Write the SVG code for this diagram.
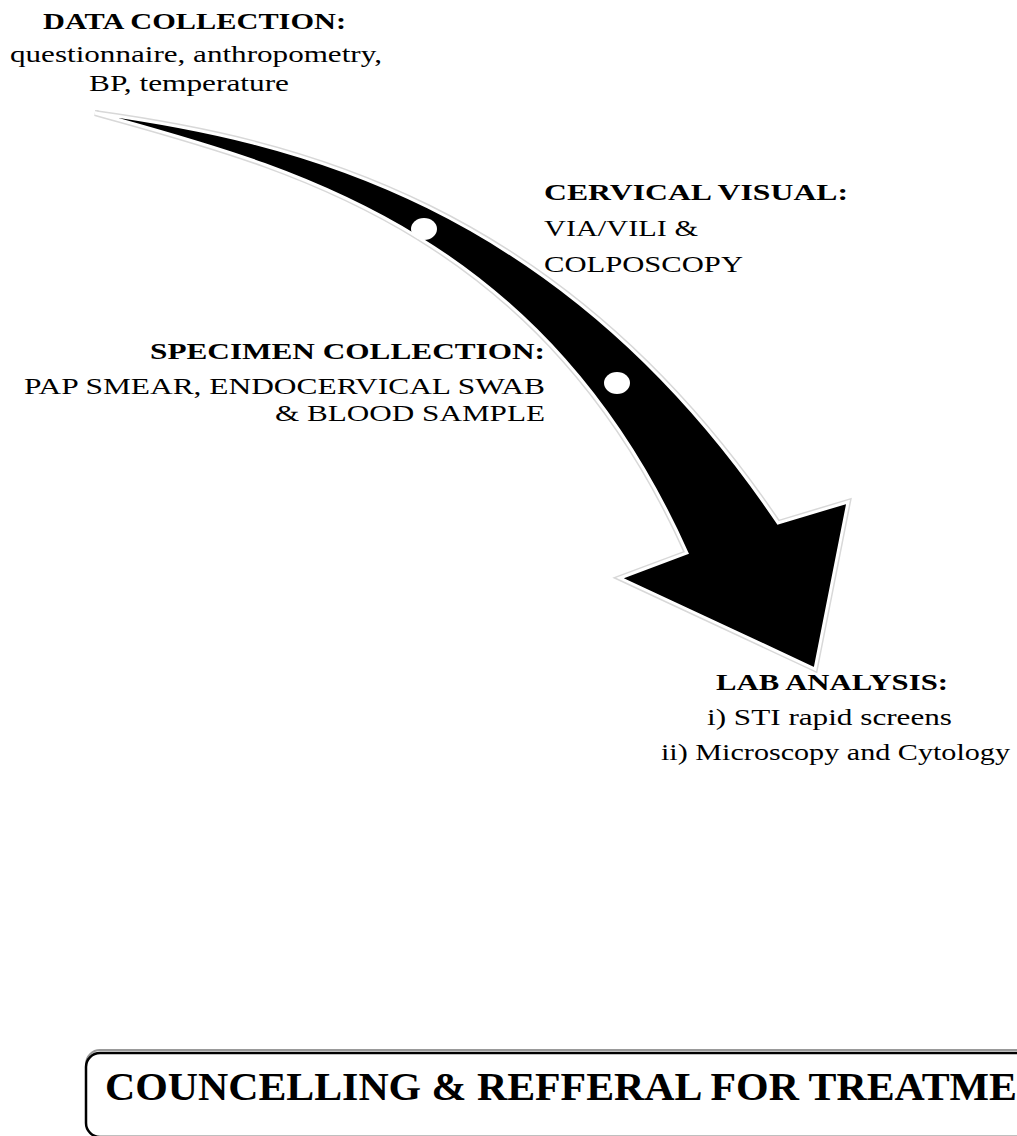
<svg xmlns="http://www.w3.org/2000/svg" width="1017" height="1136" viewBox="0 0 1017 1136">
<style>
text{font-family:"Liberation Serif","Times New Roman",serif;fill:#000;font-size:23px}
.b{font-weight:bold}
.big{font-weight:bold;font-size:39px}
</style>
<defs>
<path id="arrow" d="M95,113 C290,140 560,200 778,523 L848,502 L815,669 L620,578 L687,553 C540,225 280,165 95,113 Z"/>
</defs>
<rect width="1017" height="1136" fill="#fff"/>
<g id="data-collection">
<text class="b" x="43" y="29" textLength="303" lengthAdjust="spacingAndGlyphs">DATA COLLECTION:</text>
<text x="10" y="62" textLength="372" lengthAdjust="spacingAndGlyphs">questionnaire, anthropometry,</text>
<text x="89" y="91" textLength="200" lengthAdjust="spacingAndGlyphs">BP, temperature</text>
</g>
<g id="cervical-visual">
<text class="b" x="544" y="200" textLength="304" lengthAdjust="spacingAndGlyphs">CERVICAL VISUAL:</text>
<text x="544" y="236" textLength="154" lengthAdjust="spacingAndGlyphs">VIA/VILI &amp;</text>
<text x="544" y="272" textLength="199" lengthAdjust="spacingAndGlyphs">COLPOSCOPY</text>
</g>
<g id="specimen-collection">
<text class="b" x="150" y="359" textLength="395" lengthAdjust="spacingAndGlyphs">SPECIMEN COLLECTION:</text>
<text x="24" y="394" textLength="521" lengthAdjust="spacingAndGlyphs">PAP SMEAR, ENDOCERVICAL SWAB</text>
<text x="275" y="421" textLength="270" lengthAdjust="spacingAndGlyphs">&amp; BLOOD SAMPLE</text>
</g>
<g id="lab-analysis">
<text class="b" x="716" y="690" textLength="232" lengthAdjust="spacingAndGlyphs">LAB ANALYSIS:</text>
<text x="707" y="725" textLength="245" lengthAdjust="spacingAndGlyphs">i) STI rapid screens</text>
<text x="661" y="760" textLength="349" lengthAdjust="spacingAndGlyphs">ii) Microscopy and Cytology</text>
</g>
<g id="connectors">
<use href="#arrow" fill="none" stroke="#d8d8d8" stroke-width="6"/>
<use href="#arrow" fill="#000" stroke="#fff" stroke-width="3"/>
<ellipse cx="424" cy="229" rx="13" ry="11" fill="#fff"/>
<ellipse cx="617" cy="383" rx="13" ry="11" fill="#fff"/>
</g>
<g id="councelling">
<rect x="86" y="1050" width="1000" height="86" rx="14" fill="none" stroke="#999" stroke-width="2"/>
<rect x="86" y="1053" width="1000" height="84" rx="14" fill="#fff" stroke="#000" stroke-width="2.5"/>
<text class="big" x="105" y="1100" textLength="912" lengthAdjust="spacingAndGlyphs">COUNCELLING &amp; REFFERAL FOR TREATME</text>
</g>
</svg>
